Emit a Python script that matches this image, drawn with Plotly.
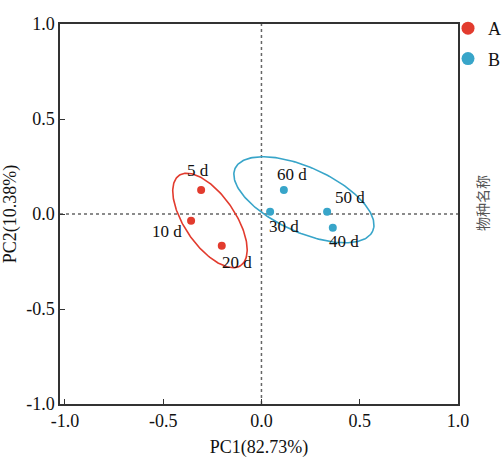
import numpy as np
import plotly.graph_objects as go

# Data
groups = ["A", "B"]
labels_A = ["5 d", "10 d", "20 d"]
pc1_A = [-0.307, -0.358, -0.202]
pc2_A = [0.126, -0.035, -0.167]
labels_B = ["60 d", "30 d", "50 d", "40 d"]
pc1_B = [0.114, 0.044, 0.334, 0.363]
pc2_B = [0.126, 0.012, 0.012, -0.072]
tick_vals = [-1.0, -0.5, 0.0, 0.5, 1.0]
tick_text = ["-1.0", "-0.5", "0.0", "0.5", "1.0"]

# confidence ellipses: center, major half-vector, minor half-vector (data units)
ell_A = dict(c=(-0.262, -0.034), u=(0.157, -0.237), v=(0.106, 0.075))
ell_B = dict(c=(0.216, 0.075), u=(0.350, -0.165), v=(0.068, 0.155))

# label offsets (px)
shift_A = [(-3, 20), (-24, -11), (15, -17)]
shift_B = [(8, 16), (14, -15), (23, 14), (11, -14)]

colA = "#e23b2e"
colB = "#38a5c9"
font = "Liberation Serif, Times New Roman, serif"

W, H = 503, 464
L, R, T, B = 60, 45, 24, 60
PW, PH = W - L - R, H - T - B

fig = go.Figure()

def ellipse(e, color):
    t = np.linspace(0, 2 * np.pi, 200)
    x = e["c"][0] + e["u"][0] * np.cos(t) + e["v"][0] * np.sin(t)
    y = e["c"][1] + e["u"][1] * np.cos(t) + e["v"][1] * np.sin(t)
    fig.add_trace(go.Scatter(x=x, y=y, mode="lines", line=dict(color=color, width=1.6),
                             showlegend=False, hoverinfo="skip"))

ellipse(ell_A, colA)
ellipse(ell_B, colB)

fig.add_trace(go.Scatter(x=pc1_A, y=pc2_A, mode="markers", marker=dict(color=colA, size=8),
                         showlegend=False, text=labels_A))
fig.add_trace(go.Scatter(x=pc1_B, y=pc2_B, mode="markers", marker=dict(color=colB, size=8),
                         showlegend=False, text=labels_B))
for g, c in zip(groups, [colA, colB]):
    fig.add_trace(go.Scatter(x=[None], y=[None], mode="markers", name=g, legendgroup=g,
                             marker=dict(color=c, size=13)))

for xs, ys, ls, sh in [(pc1_A, pc2_A, labels_A, shift_A), (pc1_B, pc2_B, labels_B, shift_B)]:
    for x, y, l, (dx, dy) in zip(xs, ys, ls, sh):
        fig.add_annotation(x=x, y=y, text=l, showarrow=False, xshift=dx, yshift=dy,
                           font=dict(family=font, size=17, color="#111"))

fig.add_shape(type="line", x0=0, x1=0, y0=-1, y1=1, xref="x", yref="y",
              line=dict(color="#666", width=1.5, dash="dot"), layer="below")
fig.add_shape(type="line", x0=-1.025, x1=1.0, y0=0, y1=0, xref="x", yref="y",
              line=dict(color="#666", width=1.5, dash="dot"), layer="below")

# faint side caption (px 494, 203)
fig.add_annotation(xref="paper", yref="paper",
                   x=(494 - L) / PW, y=(H - B - 203) / PH,
                   text="物种名称", textangle=-90, showarrow=False,
                   font=dict(family="Noto Sans CJK SC", size=14, color="#555"))

axis_common = dict(showgrid=False, zeroline=False, showline=True, linecolor="#333",
                   linewidth=1.5, mirror=True, ticks="inside", ticklen=5,
                   tickcolor="#333", tickwidth=1.2, automargin=False,
                   tickfont=dict(family=font, size=18, color="#111"),
                   tickvals=tick_vals, ticktext=tick_text)

fig.update_xaxes(range=[-1.025, 1.0],
                 title=dict(text="PC1(82.73%)", font=dict(family=font, size=18, color="#111"), standoff=10),
                 **axis_common)
fig.update_yaxes(range=[-1, 1],
                 title=dict(text="PC2(10.38%)", font=dict(family=font, size=18, color="#111"), standoff=6),
                 **axis_common)

fig.update_layout(
    width=W, height=H,
    margin=dict(l=L, r=R, t=T, b=B, autoexpand=False),
    plot_bgcolor="white", paper_bgcolor="white",
    legend=dict(x=448 / W, y=1 - 10 / H, xref="container", yref="container",
                xanchor="left", yanchor="top",
                font=dict(family=font, size=18, color="#111"),
                bgcolor="rgba(0,0,0,0)", itemwidth=30, tracegroupgap=4),
)

fig.write_html("out.html", config={"displayModeBar": False},
               post_script="document.body.style.margin='0';")
